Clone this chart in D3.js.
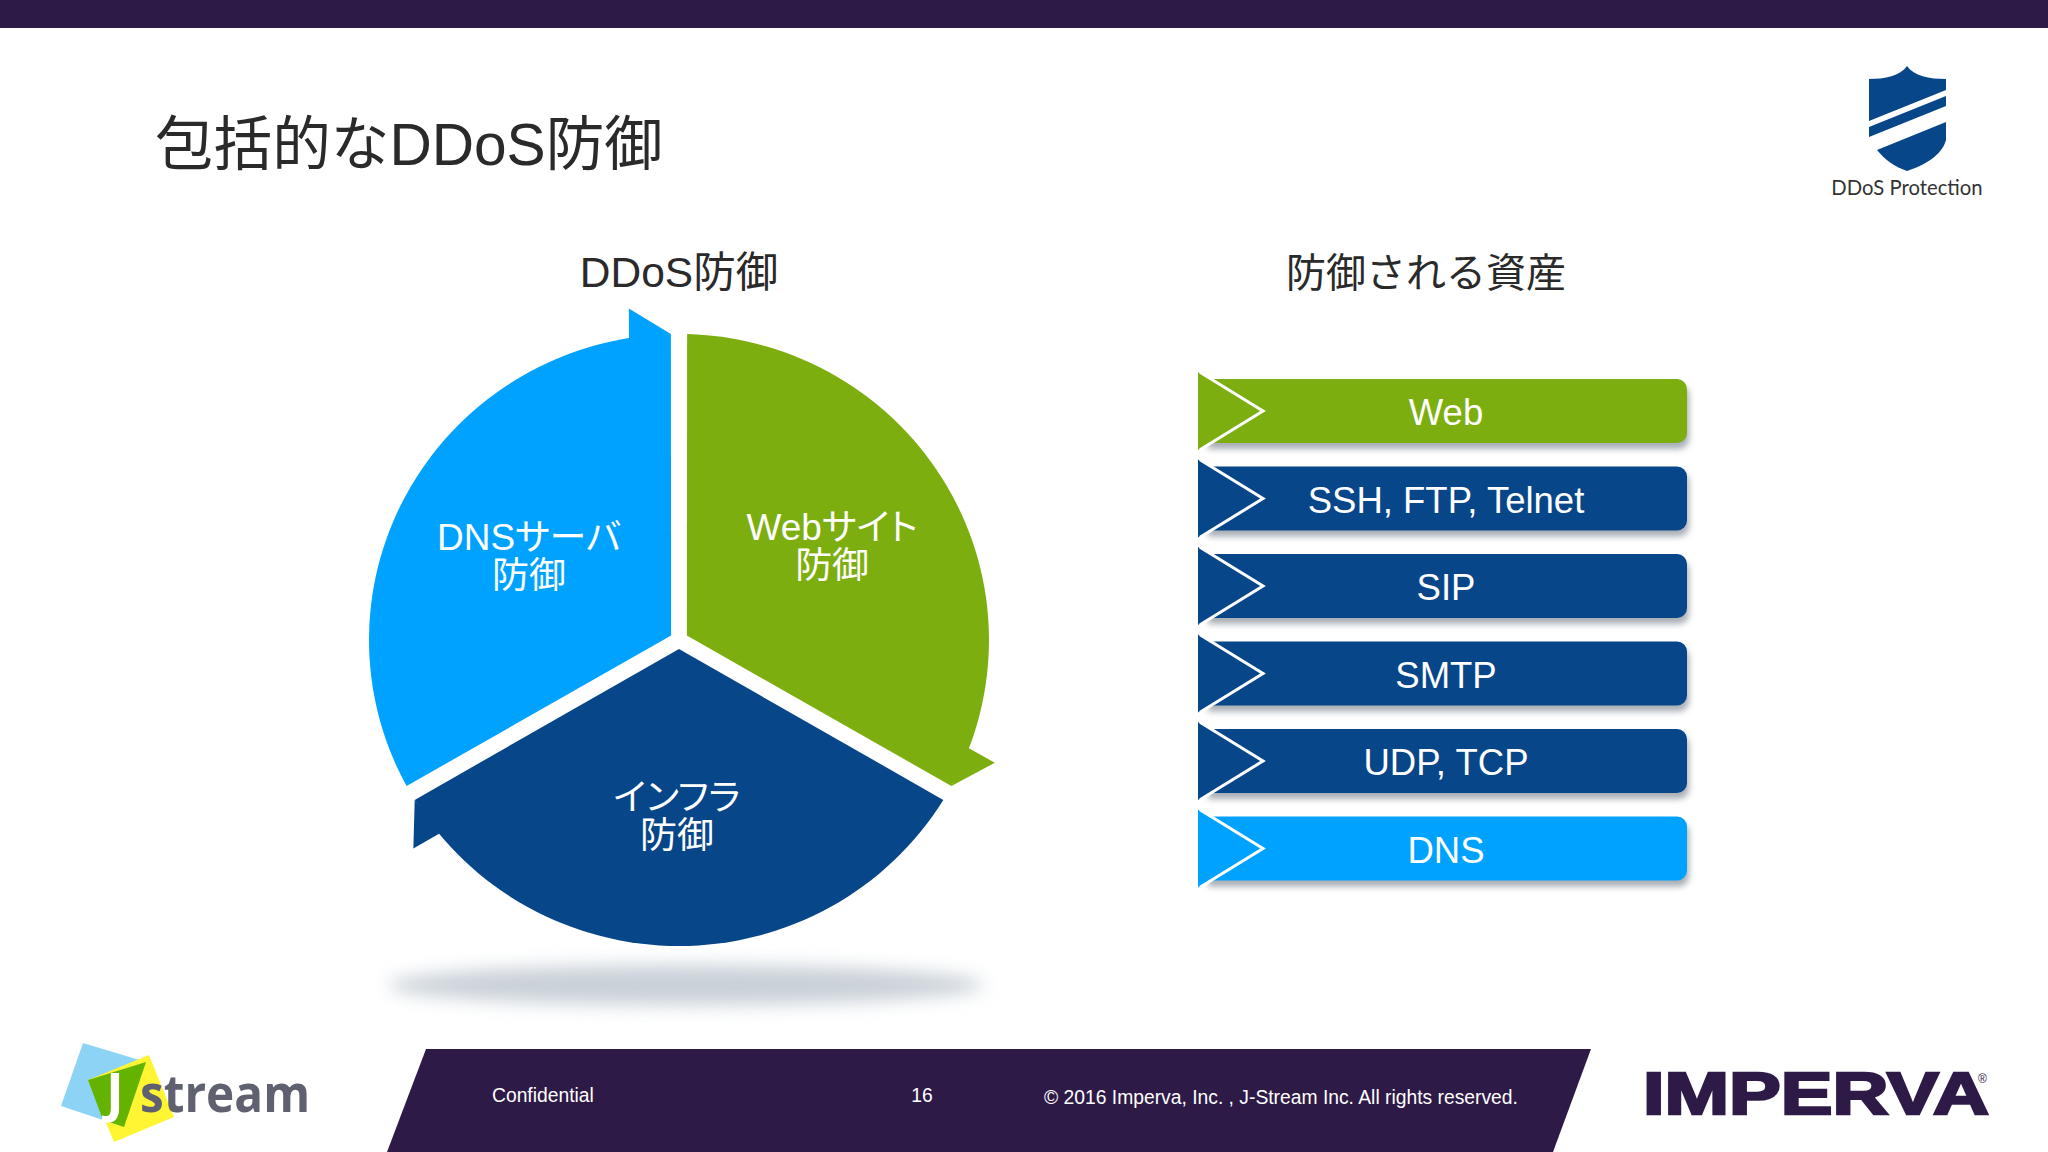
<!DOCTYPE html>
<html>
<head>
<meta charset="utf-8">
<script src="https://cdnjs.cloudflare.com/ajax/libs/d3/7.8.5/d3.min.js"></script>
<style>
  html, body { margin: 0; padding: 0; background: #fff; }
  svg { display: block; }
  .jp { font-family: "Liberation Sans", "Noto Sans CJK JP", sans-serif; }
  .latin { font-family: "Liberation Sans", Arial, sans-serif; }
  .pielabel { font-feature-settings: "palt"; }
</style>
</head>
<body>
<div id="chart"></div>
<script>
// slide text
const slideTitle = "包括的なDDoS防御";
const leftHeading = "DDoS防御";
const rightHeading = "防御される資産";
const footerLeft = "Confidential";
const pageNumber = "16";
const footerRight = "© 2016 Imperva, Inc. , J-Stream Inc. All rights reserved.";

// pie: three equal parts, clockwise from the top
const pieLines = [["Webサイト", "防御"], ["インフラ", "防御"], ["DNSサーバ", "防御"]];
const pieValues = [1, 1, 1];
const pieColors = ["#7dae10", "#08468a", "#00a2ff"];

// list on the right
const assets = ["Web", "SSH, FTP, Telnet", "SIP", "SMTP", "UDP, TCP", "DNS"];
const assetColors = ["#7dae10", "#08468a", "#08468a", "#08468a", "#08468a", "#00a2ff"];

const purple = "#2e1a47";
const svg = d3.select("#chart").append("svg").attr("width", 2048).attr("height", 1152);
const defs = svg.append("defs");
defs.append("filter").attr("id", "barShadow").attr("x", "-5%").attr("y", "-30%").attr("width", "110%").attr("height", "170%")
  .append("feGaussianBlur").attr("stdDeviation", 3);
defs.append("filter").attr("id", "floorShadow").attr("x", "-10%").attr("y", "-60%").attr("width", "120%").attr("height", "220%")
  .append("feGaussianBlur").attr("stdDeviation", 9);

// header and footer bands
svg.append("rect").attr("width", 2048).attr("height", 28).attr("fill", purple);
svg.append("path").attr("d", d3.line()([[426, 1049], [1591, 1049], [1553, 1152], [387, 1152]]) + "Z").attr("fill", purple);

svg.append("text").attr("class", "jp").attr("x", 155).attr("y", 165)
  .attr("font-size", 58.6).attr("fill", "#2a2a2a").text(slideTitle);

svg.selectAll(".heading").data([[leftHeading, 679, 42.5], [rightHeading, 1426, 40]]).enter().append("text")
  .attr("class", "jp heading").attr("x", d => d[1]).attr("y", 287)
  .attr("text-anchor", "middle").attr("font-size", d => d[2]).attr("fill", "#2a2a2a").text(d => d[0]);

// floor shadow below the pie
svg.append("ellipse").attr("cx", 686).attr("cy", 985).attr("rx", 298).attr("ry", 20)
  .attr("fill", "#c9d0d8").attr("filter", "url(#floorShadow)");

// pie
const radius = 306;
const gapOffset = 8;
const arrowNotch = 9.3 * Math.PI / 180;
const arrowTip = 8.5 * Math.PI / 180;
const arrowEdge = 1.5 * Math.PI / 180;

const pieG = svg.append("g").attr("transform", "translate(679,640) scale(1.013,1)");
const slices = d3.pie().sort(null).startAngle(0).endAngle(2 * Math.PI)(pieValues);
const wedge = d3.arc().innerRadius(9).outerRadius(radius)
  .padAngle(2 * Math.asin(gapOffset / radius)).padRadius(radius);
const polar = (a, r) => [r * Math.sin(a), -r * Math.cos(a)];

pieG.selectAll(".wedge").data(slices).enter().append("path").attr("class", "wedge")
  .attr("d", wedge).attr("fill", (d, i) => pieColors[i]);

// arrow head at the clockwise end of each slice
pieG.selectAll(".head").data(slices).enter().append("path").attr("class", "head")
  .attr("d", d => d3.line()([
    polar(d.endAngle - arrowNotch, radius - 1),
    polar(d.endAngle - arrowTip, radius * 1.095),
    polar(d.endAngle - arrowEdge, radius)
  ]) + "Z")
  .attr("fill", (d, i) => pieColors[i]);

// labels sit on the bisector, with a small nudge per slice
const labelArc = d3.arc().innerRadius(178).outerRadius(178);
const nudgeX = [-3, -2, 6];
const nudgeY = [-5, -2, 5];
const pieLabels = pieG.selectAll(".pielabel").data(slices).enter().append("text")
  .attr("class", "jp pielabel")
  .attr("transform", (d, i) => {
    const c = labelArc.centroid(d);
    return "translate(" + (c[0] + nudgeX[i]) + "," + (c[1] + nudgeY[i]) + ")";
  })
  .attr("text-anchor", "middle").attr("font-size", 36.5).attr("fill", "#fff");
pieLabels.selectAll("tspan").data((d, i) => pieLines[i]).enter().append("tspan")
  .attr("x", 0).attr("y", (d, i) => -6 + i * 38).text(d => d);

// asset list
const barX = 1198, barRight = 1687, chevron = 65, over = 7, corner = 10;
const step = 87.5, barGap = 23.5;
const yBar = d3.scaleBand().domain(assets)
  .range([379 - barGap / 2, 379 - barGap / 2 + step * assets.length])
  .paddingInner(barGap / step).paddingOuter(barGap / step / 2);
const h = yBar.bandwidth();

// bar body: square on the left, rounded on the right
const barBody = () => {
  const p = d3.path();
  p.moveTo(barX + 8, 0);
  p.arcTo(barRight, 0, barRight, h, corner);
  p.arcTo(barRight, h, barX + 8, h, corner);
  p.lineTo(barX + 8, h);
  p.closePath();
  return p.toString();
};

const rows = svg.selectAll(".asset").data(assets).enter().append("g").attr("class", "asset")
  .attr("transform", d => "translate(0," + yBar(d) + ")");

rows.append("path").attr("d", barBody).attr("transform", "translate(2,6)")
  .attr("fill", "#a8aeb5").attr("filter", "url(#barShadow)");
rows.append("path").attr("d", barBody).attr("fill", (d, i) => assetColors[i]);
rows.append("path").attr("d", d3.line()([[barX, -over], [barX + chevron - 2, h / 2], [barX, h + over]]) + "Z")
  .attr("fill", (d, i) => assetColors[i]);
rows.append("path")
  .attr("d", d3.line()([[barX + 2, -over + 0.2], [barX + chevron, h / 2], [barX + 2, h + over - 0.2]]))
  .attr("fill", "none").attr("stroke", "#fff").attr("stroke-width", 3);
rows.append("text").attr("class", "latin").attr("x", 1446).attr("y", h / 2 + 14)
  .attr("text-anchor", "middle").attr("font-size", 36.5).attr("fill", "#fff").text(d => d);

// footer text
const footG = svg.append("g").attr("class", "latin").attr("fill", "#fff").attr("font-size", 19.3);
footG.append("text").attr("x", 492).attr("y", 1102).text(footerLeft);
footG.append("text").attr("x", 922).attr("y", 1102).attr("text-anchor", "middle").text(pageNumber);
footG.append("text").attr("x", 1044).attr("y", 1104).text(footerRight);

// DDoS Protection badge
svg.append("path").attr("fill", "#08468a").attr("d", "M1869,79 C1885,79 1900,76 1907,66 C1914,76 1929,79 1946,79 L1946,90 L1869,121 Z");
svg.append("path").attr("fill", "#08468a").attr("d", "M1869,127 L1946,96 L1946,106 L1869,137 Z");
svg.append("path").attr("fill", "#08468a").attr("d", "M1946,122 L1946,140 C1942,155 1925,165 1907,171 C1895,167 1885,160 1877,150 Z");
svg.append("text").attr("x", 1907).attr("y", 195).attr("text-anchor", "middle")
  .attr("font-family", "Lato, sans-serif").attr("font-size", 20.3).attr("fill", "#333").text("DDoS Protection");

// J-Stream logo
svg.append("path").attr("fill", "#8cd3f5").attr("d", d3.line()([[83, 1043], [146, 1062], [124, 1127], [61, 1106]]) + "Z");
svg.append("path").attr("fill", "#fff533").attr("d", d3.line()([[149, 1055], [174, 1117], [114, 1142], [88, 1080]]) + "Z");
svg.append("path").attr("fill", "#63b300").attr("d", d3.line()([[88, 1080], [146, 1062], [124, 1127], [103, 1120]]) + "Z");
svg.append("text").attr("x", 106).attr("y", 1112).attr("font-family", "Open Sans, sans-serif").attr("font-weight", 700)
  .attr("font-size", 54).attr("fill", "#fff").text("J");
svg.append("text").attr("x", 140).attr("y", 1112).attr("font-family", "Open Sans, sans-serif").attr("font-weight", 700)
  .attr("font-size", 52).attr("textLength", 170).attr("lengthAdjust", "spacingAndGlyphs").attr("fill", "#5f6070").text("stream");

// Imperva logo
svg.append("text").attr("class", "latin").attr("x", 1643).attr("y", 1114).attr("font-weight", 700)
  .attr("font-size", 60).attr("textLength", 346).attr("lengthAdjust", "spacingAndGlyphs")
  .attr("fill", purple).attr("stroke", purple).attr("stroke-width", 2.5).text("IMPERVA");
svg.append("text").attr("class", "latin").attr("x", 1978).attr("y", 1083).attr("font-size", 12).attr("fill", purple).text("®");
</script>
</body>
</html>
